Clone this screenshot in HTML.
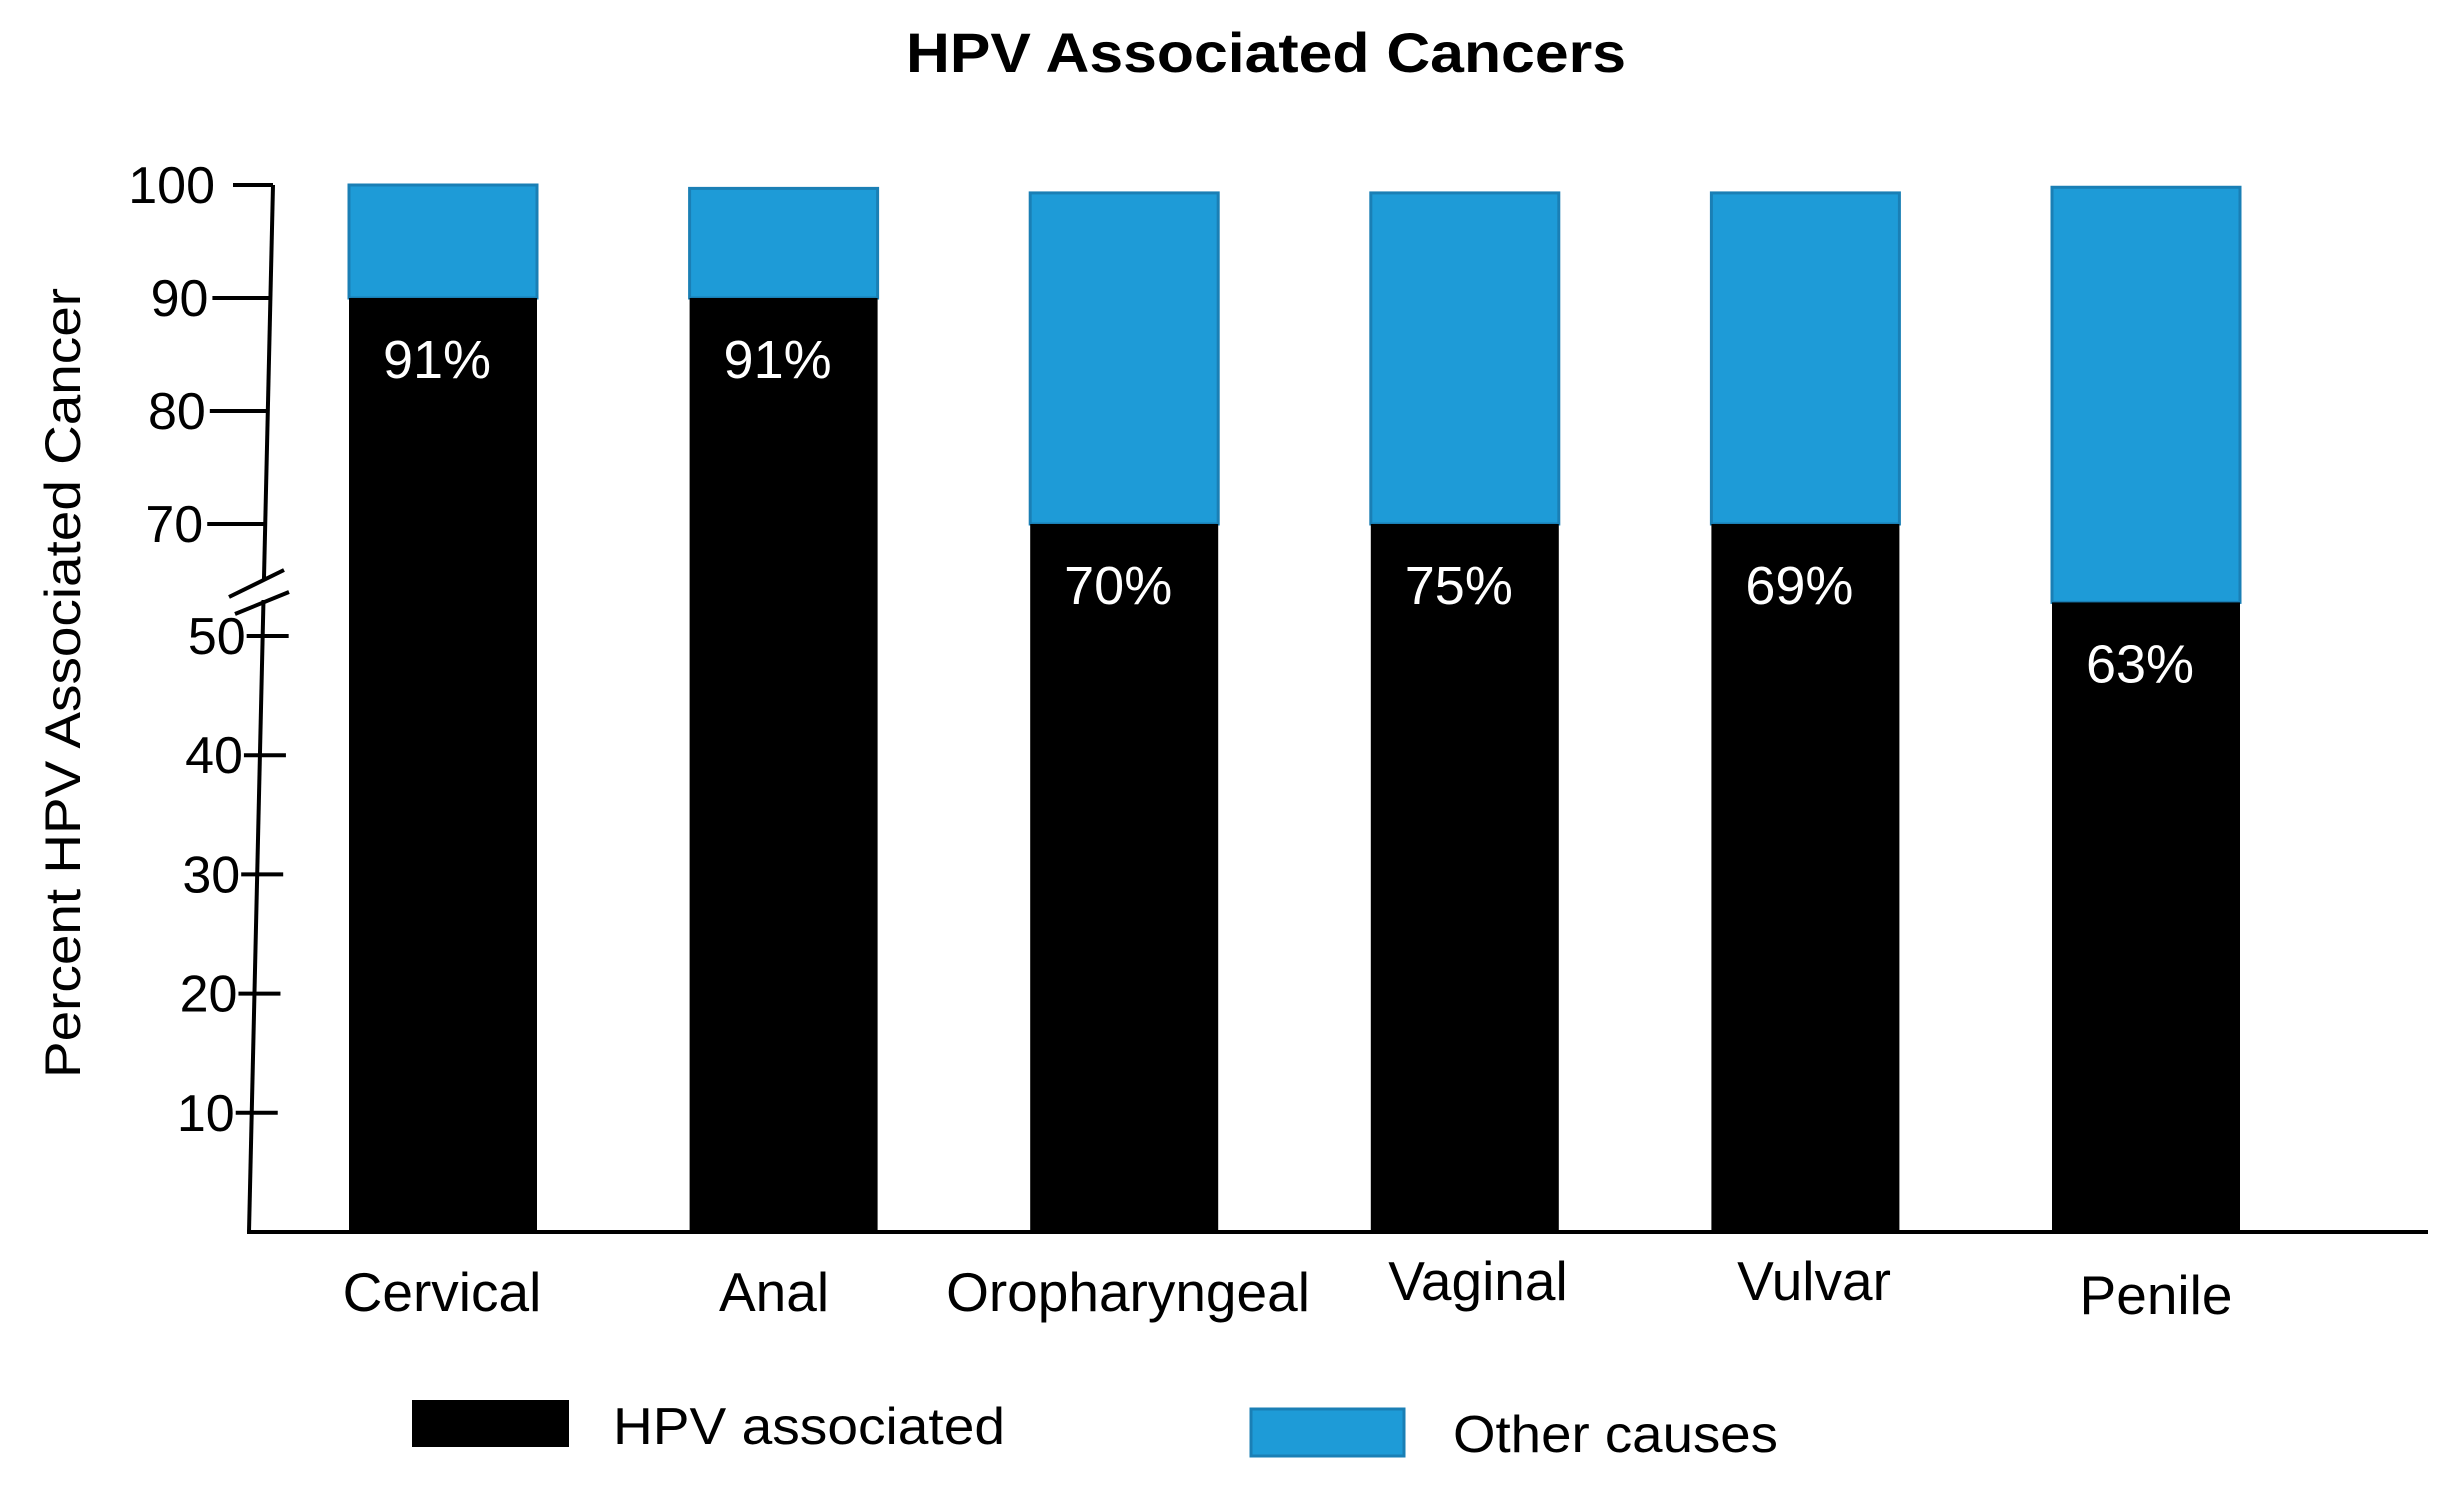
<!DOCTYPE html>
<html><head><meta charset="utf-8">
<style>
html,body{margin:0;padding:0;background:#fff;}
svg{display:block;font-family:"Liberation Sans",Arial,sans-serif;}
</style></head>
<body>
<svg id="chart" width="2462" height="1495" viewBox="0 0 2462 1495">
  <text x="1266" y="72" text-anchor="middle" font-size="56" font-weight="bold" textLength="720" lengthAdjust="spacingAndGlyphs">HPV Associated Cancers</text>
  <text transform="translate(80,683) rotate(-90)" text-anchor="middle" font-size="50" textLength="790" lengthAdjust="spacingAndGlyphs">Percent HPV Associated Cancer</text>
  <g id="axes"></g>
  <g id="bars"></g>
  <g id="legend">
    <rect x="412" y="1400" width="157" height="47" fill="#000"/>
    <text x="613" y="1444" font-size="52" textLength="392" lengthAdjust="spacingAndGlyphs">HPV associated</text>
    <rect x="1251" y="1409" width="153" height="47" fill="#1e9bd7" stroke="#1a7fb5" stroke-width="3"/>
    <text x="1453" y="1452" font-size="52" textLength="325" lengthAdjust="spacingAndGlyphs">Other causes</text>
  </g>
</svg>
<script>
const categories = ["Cervical","Anal","Oropharyngeal","Vaginal","Vulvar","Penile"];
const hpvValues = [90, 90, 70, 70, 70, 56];
const totalValues = [100, 99.7, 99.3, 99.3, 99.3, 99.8];
const pctLabels = ["91%","91%","70%","75%","69%","63%"];
const upperTicks = [100, 90, 80, 70];
const lowerTicks = [50, 40, 30, 20, 10];

const NS = "http://www.w3.org/2000/svg";
function mk(tag, attrs, parent){ const e=document.createElementNS(NS,tag); for(const k in attrs) e.setAttribute(k,attrs[k]); parent.appendChild(e); return e; }

const BASE = 1232;
function y(v){
  if(v>=70) return 524 - (v-70)*(524-185)/30;
  if(v>=50) return 636 - (v-50)*(636-524)/20;
  return BASE - v*(BASE-636)/50;
}
function axisX(py){ return 249 + (BASE-py)*(273-249)/(BASE-185); }
const barX0 = 349, barStep = 340.6, barW = 188;
function xb(i){ return barX0 + i*barStep; }
const catX = [442, 774, 1128, 1478, 1814, 2156];
const catY = [1311, 1311, 1311, 1300, 1300, 1314];

const axes = document.getElementById('axes');
const bars = document.getElementById('bars');

let l = mk('line',{x1:axisX(185),y1:185,x2:axisX(580),y2:580,stroke:'#000','stroke-width':4},axes);


l = mk('line',{x1:axisX(600),y1:600,x2:249,y2:BASE,stroke:'#000','stroke-width':4},axes);


l = mk('line',{x1:247,y1:BASE,x2:2428,y2:BASE,stroke:'#000','stroke-width':4},axes);


l = mk('line',{x1:229,y1:597,x2:284,y2:570,stroke:'#000','stroke-width':4},axes);


l = mk('line',{x1:235,y1:614,x2:289,y2:592,stroke:'#000','stroke-width':4},axes);



upperTicks.forEach(v=>{
  const py=y(v), ax=axisX(py);
  const t = mk('line',{x1:v===100?ax-40:ax-58,y1:py,x2:ax,y2:py,stroke:'#000','stroke-width':4},axes);
  
  
  const tx = mk('text',{x:v===100?ax-58:ax-62,y:py+18,'text-anchor':'end','font-size':52},axes);
  tx.textContent=v;
  
  
});
lowerTicks.forEach(v=>{
  const py=y(v), ax=axisX(py);
  const t = mk('line',{x1:ax-16,y1:py,x2:ax+26,y2:py,stroke:'#000','stroke-width':4},axes);
  
  
  const tx = mk('text',{x:ax-17,y:py+18,'text-anchor':'end','font-size':52},axes);
  tx.textContent=v;
  
  
});

categories.forEach((c,i)=>{
  const x=xb(i);
  const other = mk('rect',{x:x,y:y(totalValues[i]),width:barW,height:y(hpvValues[i])-y(totalValues[i]),fill:'#1e9bd7',stroke:'#1a7fb5','stroke-width':3},bars);
  
  
  const hpv = mk('rect',{x:x,y:y(hpvValues[i]),width:barW,height:BASE-y(hpvValues[i]),fill:'#000'},bars);
  
  
  const lab = mk('text',{x:x+barW/2-6,y:y(hpvValues[i])+80,'text-anchor':'middle','font-size':54,fill:'#fff'},bars);
  lab.textContent=pctLabels[i];
  
  
  const cl = mk('text',{x:catX[i],y:catY[i],'text-anchor':'middle','font-size':55},axes);
  cl.textContent=c;
  
  
});
</script>
</body></html>
